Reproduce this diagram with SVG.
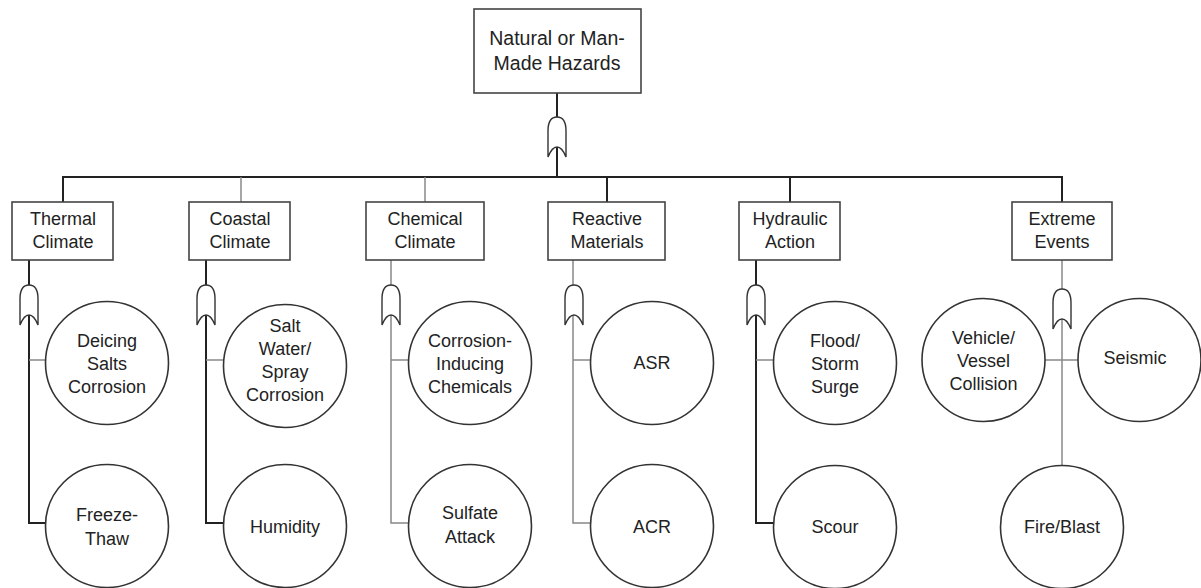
<svg xmlns="http://www.w3.org/2000/svg" width="1201" height="588" viewBox="0 0 1201 588">
<style>
.box{fill:#fff;stroke:#444;stroke-width:1.6}
.cir{fill:#fff;stroke:#333;stroke-width:1.6}
.gate{fill:#fff;stroke:#333;stroke-width:1.4}
.dk{stroke:#222;stroke-width:2;fill:none}
.lt{stroke:#888;stroke-width:1.5;fill:none}
text{font-family:"Liberation Sans",Arial,sans-serif;font-size:18px;fill:#222;text-anchor:middle}
.big{font-size:19.5px}
</style>
<defs>
<path id="g" d="M-9,14 Q-9,0 0,0 Q9,0 9,14 L9,40 Q5,30 0,30 Q-5,30 -9,40 Z"/>
</defs>
<rect width="1201" height="588" fill="#fff"/>
<g id="connectors">
<line class="dk" x1="557" y1="93" x2="557" y2="177"/>
<line class="dk" x1="62" y1="177" x2="1063" y2="177"/>
<line class="dk" x1="63" y1="177" x2="63" y2="202"/>
<line class="lt" x1="241" y1="177" x2="241" y2="202"/>
<line class="lt" x1="425" y1="177" x2="425" y2="202"/>
<line class="dk" x1="607" y1="177" x2="607" y2="202"/>
<line class="dk" x1="790" y1="177" x2="790" y2="202"/>
<line class="dk" x1="1062" y1="177" x2="1062" y2="202"/>
<polyline class="dk" points="29,260 29,523 46,523"/>
<line class="lt" x1="29" y1="360" x2="46" y2="360"/>
<polyline class="dk" points="206,260 206,523 224,523"/>
<line class="lt" x1="206" y1="360" x2="224" y2="360"/>
<polyline class="lt" points="391,260 391,523 409,523"/>
<line class="lt" x1="391" y1="360" x2="409" y2="360"/>
<polyline class="lt" points="573,260 573,523 591,523"/>
<line class="lt" x1="573" y1="360" x2="591" y2="360"/>
<polyline class="dk" points="756,260 756,523 774,523"/>
<line class="lt" x1="756" y1="360" x2="774" y2="360"/>
<line class="lt" x1="1062" y1="260" x2="1062" y2="466"/>
<line class="lt" x1="1045" y1="360" x2="1078" y2="360"/>
<use href="#g" class="gate" x="557" y="117"/>
<use href="#g" class="gate" x="29" y="285"/>
<use href="#g" class="gate" x="206" y="285"/>
<use href="#g" class="gate" x="391" y="285"/>
<use href="#g" class="gate" x="574" y="285"/>
<use href="#g" class="gate" x="756" y="285"/>
<use href="#g" class="gate" x="1062" y="289"/>
</g>
<g id="n-root"><rect class="box" x="474" y="9" width="167" height="84"/><text class="big" x="557" y="45">Natural or Man-</text><text class="big" x="557" y="70">Made Hazards</text></g>
<g id="n-thermal"><rect class="box" x="12" y="202" width="101" height="58"/><text x="63" y="225">Thermal</text><text x="63" y="248">Climate</text></g>
<g id="n-coastal"><rect class="box" x="189" y="202" width="101" height="58"/><text x="240" y="225">Coastal</text><text x="240" y="248">Climate</text></g>
<g id="n-chemical"><rect class="box" x="366" y="202" width="118" height="58"/><text x="425" y="225">Chemical</text><text x="425" y="248">Climate</text></g>
<g id="n-reactive"><rect class="box" x="548" y="202" width="117" height="58"/><text x="607" y="225">Reactive</text><text x="607" y="248">Materials</text></g>
<g id="n-hydraulic"><rect class="box" x="739" y="202" width="101" height="58"/><text x="790" y="225">Hydraulic</text><text x="790" y="248">Action</text></g>
<g id="n-extreme"><rect class="box" x="1012" y="202" width="100" height="58"/><text x="1062" y="225">Extreme</text><text x="1062" y="248">Events</text></g>
<g id="n-deicing"><circle class="cir" cx="107" cy="363" r="61.5"/><text x="107" y="347">Deicing</text><text x="107" y="370">Salts</text><text x="107" y="393">Corrosion</text></g>
<g id="n-freeze"><circle class="cir" cx="107" cy="526" r="61.5"/><text x="107" y="521">Freeze-</text><text x="107" y="545">Thaw</text></g>
<g id="n-salt"><circle class="cir" cx="285" cy="366" r="61.5"/><text x="285" y="332">Salt</text><text x="285" y="355">Water/</text><text x="285" y="378">Spray</text><text x="285" y="401">Corrosion</text></g>
<g id="n-humidity"><circle class="cir" cx="285" cy="526" r="61.5"/><text x="285" y="533">Humidity</text></g>
<g id="n-corrosion"><circle class="cir" cx="470" cy="363" r="61.5"/><text x="470" y="347">Corrosion-</text><text x="470" y="370">Inducing</text><text x="470" y="393">Chemicals</text></g>
<g id="n-sulfate"><circle class="cir" cx="470" cy="526" r="61.5"/><text x="470" y="519">Sulfate</text><text x="470" y="543">Attack</text></g>
<g id="n-asr"><circle class="cir" cx="652" cy="363" r="61.5"/><text x="652" y="369">ASR</text></g>
<g id="n-acr"><circle class="cir" cx="652" cy="526" r="61.5"/><text x="652" y="533">ACR</text></g>
<g id="n-flood"><circle class="cir" cx="835" cy="363" r="61.5"/><text x="835" y="347">Flood/</text><text x="835" y="370">Storm</text><text x="835" y="393">Surge</text></g>
<g id="n-scour"><circle class="cir" cx="835" cy="527" r="61.5"/><text x="835" y="533">Scour</text></g>
<g id="n-vehicle"><circle class="cir" cx="983.5" cy="360" r="61.5"/><text x="983.5" y="344">Vehicle/</text><text x="983.5" y="367">Vessel</text><text x="983.5" y="390">Collision</text></g>
<g id="n-seismic"><circle class="cir" cx="1139.5" cy="360" r="61.5"/><text x="1135" y="364">Seismic</text></g>
<g id="n-fire"><circle class="cir" cx="1062" cy="527" r="61.5"/><text x="1062" y="533">Fire/Blast</text></g>
</svg>
